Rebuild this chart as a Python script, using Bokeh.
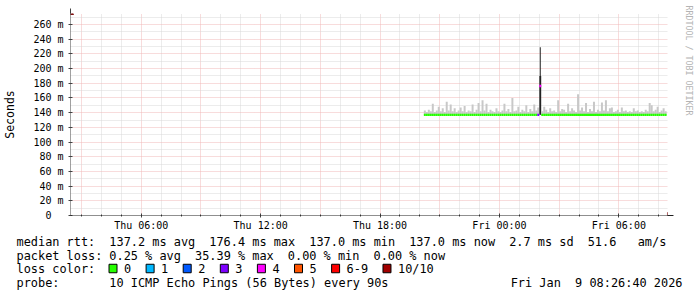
from math import pi
from bokeh.plotting import figure
from bokeh.layouts import column, row
from bokeh.core.properties import value
from bokeh.models import (Range1d, FixedTicker, Arrow, NormalHead, ColumnDataSource, Plot)
from bokeh.embed import file_html
from bokeh.resources import INLINE

# ---------------- data (hours since Thu Jan 8 00:00) ----------------
x_start, x_end = 2.4444, 32.4444          # 02:26:40 Thu .. 08:26:40 Fri
x_label_ticks = [6, 12, 18, 24, 30]
x_label_text = ["Thu 06:00", "Thu 12:00", "Thu 18:00", "Fri 00:00", "Fri 06:00"]
x_major_grid = [3, 6, 9, 12, 15, 18, 21, 24, 27, 30]
x_minor_grid = [4, 5, 7, 8, 10, 11, 13, 14, 16, 17, 19, 20, 22, 23, 25, 26, 28, 29, 31, 32]
y_label_ticks = [0, 20, 40, 60, 80, 100, 120, 140, 160, 180, 200, 220, 240, 260]
y_minor_grid = [10, 30, 50, 70, 90, 110, 130, 150, 170, 190, 210, 230, 250, 270]

sample_start = 20.25      # first sample (Thu 20:15)
sample_step = 0.1         # 6 minutes per sample
# highest ping of each sample (ms)
smoke_hi = [143, 141, 144, 142, 152, 141, 143, 148, 142, 146,
            141, 155, 143, 151, 142, 146, 141, 143, 147, 142,
            149, 141, 143, 142, 151, 141, 144, 153, 142, 157,
            143, 152, 141, 144, 142, 141, 146, 142, 141, 143,
            152, 142, 145, 141, 160, 142, 143, 148, 141, 144,
            142, 150, 141, 145, 142, 151, 143, 147, 190, 142,
            148, 144, 141, 146, 142, 143, 141, 157, 142, 145,
            144, 141, 152, 142, 146, 143, 141, 165, 143, 147,
            142, 153, 141, 145, 142, 155, 141, 144, 142, 154,
            143, 157, 142, 146, 147, 141, 142, 144, 141, 147,
            142, 143, 141, 142, 141, 146, 142, 143, 141, 142,
            141, 144, 142, 153, 150, 142, 144, 148, 141, 143,
            146, 142]
median_ms = [137.0] * 58 + [176.4] + [137.0] * 63
lost_pings = [0] * 57 + [3, 4] + [0] * 63
spike_time = [26.05]
spike_top = [229.0]

loss_labels = ["0", "1", "2", "3", "4", "5", "6-9", "10/10"]
loss_colors = ["#26ff00", "#00b8ff", "#0059ff", "#7e00ff", "#ff00ff",
               "#ff5500", "#ff0000", "#a10000"]
loss_color_of = {0: loss_colors[0], 1: loss_colors[1], 2: loss_colors[2],
                 3: loss_colors[3], 4: loss_colors[4], 5: loss_colors[5]}

rtt_avg, rtt_max, rtt_min, rtt_now, rtt_sd, am_s = 137.2, 176.4, 137.0, 137.0, 2.7, 51.6
loss_avg, loss_max, loss_min, loss_now = 0.25, 35.39, 0.00, 0.00
probe_text = "10 ICMP Echo Pings (56 Bytes) every 90s"
stamp_text = "Fri Jan\u00a0\u00a09 08:26:40 2026"
credit_text = "RRDTOOL / TOBI OETIKER"

HAS_FA = "frame_align" in Plot.properties()
def no_align(fig):
    if HAS_FA:
        fig.frame_align = False

# ---------------- chart figure ----------------
W = 697
W1 = 675                 # chart canvas width; credit strip to its right
H1 = 233
FL, FR, FT, FB = 67, 667, 13, 215
Y_TOP = 275.0

p = figure(width=W1, height=H1, output_backend="svg", toolbar_location=None,
           x_range=Range1d(x_start, x_end), y_range=Range1d(0, Y_TOP),
           min_border_left=FL, min_border_right=W1 - FR, min_border_top=FT,
           min_border_bottom=H1 - FB, background_fill_color="white",
           border_fill_color="white", outline_line_color=None)
no_align(p)

xg = p.xgrid[0]
xg.ticker = FixedTicker(ticks=x_major_grid, minor_ticks=x_minor_grid)
xg.grid_line_color = "#f0b8b8"
xg.grid_line_dash = "1 1"
xg.minor_grid_line_color = "#d8d8d8"
xg.minor_grid_line_dash = "1 1"
yg = p.ygrid[0]
yg.ticker = FixedTicker(ticks=y_label_ticks, minor_ticks=y_minor_grid)
yg.grid_line_color = "#f0b8b8"
yg.grid_line_dash = "1 1"
yg.minor_grid_line_color = "#d8d8d8"
yg.minor_grid_line_dash = "1 1"

xa = p.xaxis[0]
xa.ticker = FixedTicker(ticks=x_label_ticks, minor_ticks=x_major_grid + x_minor_grid)
xa.major_label_overrides = dict(zip(x_label_ticks, x_label_text))
xa.major_label_text_font = "DejaVu Sans Mono"
xa.major_label_text_font_size = "10px"
xa.major_label_text_color = "black"
xa.major_label_standoff = 2
xa.axis_line_color = None
xa.major_tick_in = 2
xa.major_tick_out = 2
xa.minor_tick_in = 1
xa.minor_tick_out = 1
xa.major_tick_line_color = "#404040"
xa.minor_tick_line_color = "#404040"

ya = p.yaxis[0]
ya.ticker = FixedTicker(ticks=y_label_ticks, minor_ticks=[])
ya.major_label_overrides = {v: (f"{v} m" if v else "0\u00a0\u00a0") for v in y_label_ticks}
ya.major_label_text_font = "DejaVu Sans Mono"
ya.major_label_text_font_size = "10px"
ya.major_label_text_color = "black"
ya.major_label_standoff = 5
ya.axis_line_color = None
ya.major_tick_in = 2
ya.major_tick_out = 2
ya.major_tick_line_color = "#404040"
ya.axis_label = "Seconds"
ya.axis_label_text_font = "DejaVu Sans Mono"
ya.axis_label_text_font_size = "11.5px"
ya.axis_label_text_font_style = "normal"
ya.axis_label_text_color = "black"
ya.axis_label_standoff = 13

# ---------------- marks ----------------
times = [round(sample_start + sample_step * i, 4) for i in range(len(smoke_hi))]
src = ColumnDataSource(dict(
    t=times, hi=smoke_hi, med=median_ms,
    col=[loss_color_of[k] for k in lost_pings],
    smoke=["#505050" if m > 150 else "#c8c8c8" for m in median_ms]))

p.vbar(x="t", width=sample_step, bottom=137.0, top="hi", source=src,
       fill_color="smoke", line_color=None)
p.vbar(x=spike_time, width=sample_step * 0.45, bottom=137.0, top=spike_top,
       fill_color="#111111", line_color=None)
p.rect(x="t", y="med", width=sample_step, height=2.4, height_units="screen",
       fill_color="col", line_color=None, source=src)

arrow_col = "#7f1010"
p.add_layout(Arrow(x_start=x_start, y_start=0, x_end=x_start, y_end=281.8,
                   line_color="#404040", line_width=1,
                   end=NormalHead(size=6, fill_color=arrow_col, line_color=arrow_col)))
p.add_layout(Arrow(x_start=x_start - 0.1, y_start=0, x_end=x_start + (673 - FL) / 20.0, y_end=0,
                   line_color="#202020", line_width=1,
                   end=NormalHead(size=6, fill_color=arrow_col, line_color=arrow_col)))

# ---------------- credit strip (pixel coordinates) ----------------
W2 = W - W1
r = figure(width=W2, height=H1, output_backend="svg", toolbar_location=None,
           x_range=Range1d(W1, W), y_range=Range1d(H1, 0),
           x_axis_location=None, y_axis_location=None, min_border=0,
           background_fill_color="white", border_fill_color="white",
           outline_line_color=None)
no_align(r)
r.xgrid.visible = False
r.ygrid.visible = False
r.text(x=[688], y=[5], text=[credit_text], angle=-pi / 2,
       text_font=value("DejaVu Sans Mono"), text_font_size="8.3px",
       text_align="left", text_baseline="middle", text_color="#b4b4b4")

# ---------------- legend figure (pixel coordinates) ----------------
H2 = 297 - H1
q = figure(width=W, height=H2, output_backend="svg", toolbar_location=None,
           x_range=Range1d(0, W), y_range=Range1d(H2, 0),
           x_axis_location=None, y_axis_location=None, min_border=0,
           background_fill_color="white", border_fill_color="white",
           outline_line_color=None)
no_align(q)
q.xgrid.visible = False
q.ygrid.visible = False

CW, X0 = 7.14, 16.0
def col(c):
    return X0 + c * CW

rows = [241 - H1, 255 - H1, 268 - H1, 282 - H1]
line1 = [(0, "median rtt:"), (13, f"{rtt_avg:.1f} ms avg"), (27, f"{rtt_max:.1f} ms max"),
         (41, f"{rtt_min:.1f} ms min"), (55, f"{rtt_now:.1f} ms now"),
         (69, f"{rtt_sd:.1f} ms sd"), (80, f"{am_s:.1f}"), (87, "am/s")]
line2 = [(0, "packet loss:"), (13, f"{loss_avg:.2f} % avg"), (25, f"{loss_max:.2f} % max"),
         (38, f"{loss_min:.2f} % min"), (50, f"{loss_now:.2f} % now")]

tx, ty, tt = [], [], []
for c, s in line1:
    tx.append(col(c)); ty.append(rows[0]); tt.append(s)
for c, s in line2:
    tx.append(col(c)); ty.append(rows[1]); tt.append(s)
tx.append(col(0)); ty.append(rows[2]); tt.append("loss color:")
bx_list, by_list = [], []
bx = 108.5
for lab in loss_labels:
    bx_list.append(bx + 4); by_list.append(rows[2])
    tx.append(bx + 15); ty.append(rows[2]); tt.append(lab)
    bx += 37.1 + (len(lab) - 1) * CW
tx += [col(0), col(13)]; ty += [rows[3], rows[3]]; tt += ["probe:", probe_text]

q.text(x=tx, y=ty, text=tt, text_font=value("DejaVu Sans Mono"), text_font_size="11.9px",
       text_baseline="middle", text_align="left", text_color="black")
q.text(x=[682], y=[rows[3]], text=[stamp_text], text_font=value("DejaVu Sans Mono"),
       text_font_size="11.9px", text_baseline="middle", text_align="right",
       text_color="black")
q.rect(x=bx_list, y=by_list, width=8, height=8.5, fill_color=loss_colors,
       line_color="black", line_width=1)

layout = column(row(p, r, spacing=0), q, spacing=0)
open("out.html", "w").write(file_html(layout, INLINE))
